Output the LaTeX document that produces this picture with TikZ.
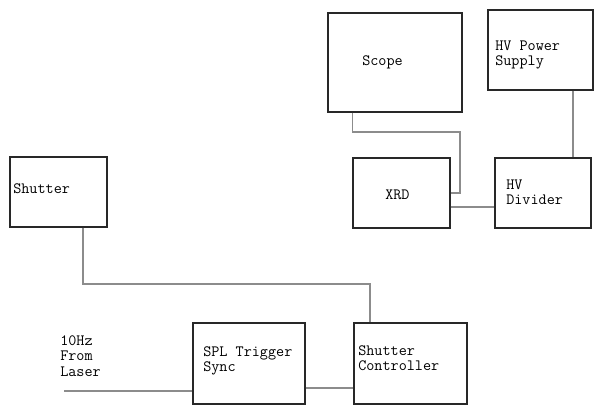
\documentclass[tikz,border=0pt]{standalone}
\usetikzlibrary{positioning}
\definecolor{wiregray}{RGB}{140,140,140}
\definecolor{boxline}{RGB}{40,40,40}

\begin{document}
\begin{tikzpicture}[
    x=0.75pt, y=-0.75pt,
    every node/.style={font=\ttfamily\fontsize{11.8}{11.6}\selectfont},
    box/.style={draw=boxline, line width=0.8pt, inner sep=0pt},
    txt/.style={anchor=west, inner sep=0pt, align=left},
    wire/.style={draw=wiregray, line width=0.8pt}
  ]
    \useasboundingbox (0,0) rectangle (594,405);

    % boxes
    \node[box, minimum width=100.5pt, minimum height=74.25pt] (scope) at (395,62.5) {};
    \node[box, minimum width=78.75pt, minimum height=60pt] (power) at (540.5,50) {};
    \node[box, minimum width=72.75pt, minimum height=52.5pt] (xrd) at (401.5,193) {};
    \node[box, minimum width=72pt, minimum height=52.5pt] (divider) at (543,193) {};
    \node[box, minimum width=72.75pt, minimum height=52.5pt] (shutter) at (58.5,192) {};
    \node[box, minimum width=84pt, minimum height=60.75pt] (spl) at (249,363.5) {};
    \node[box, minimum width=84.75pt, minimum height=60.75pt] (controller) at (410.5,363.5) {};

    % texts
    \node[txt] (scopetxt) at (362,62) {Scope};
    \node[txt] (powertxt) at (495,55) {HV Power\\Supply};
    \node[txt] (xrdtxt) at (385,195) {XRD};
    \node[txt] (dividertxt) at (506,192) {HV\\Divider};
    \node[txt] (shuttertxt) at (13,189) {Shutter};
    \node[txt] (lasertxt) at (60,356) {10Hz\\From\\Laser};
    \node[txt] (spltxt) at (203,361) {SPL Trigger\\Sync};
    \node[txt] (controllertxt) at (358,358) {Shutter\\Controller};

    % wires
    \coordinate (laser) at (64,391);
    \draw[wire] (scope.south -| xrd.west) |- (460,132) |- (xrd.east);
    \draw[wire] (xrd.east |- 0,207) -- (divider.west |- 0,207);
    \draw[wire] (power.south -| 573,0) -- (divider.north -| 573,0);
    \draw[wire] (shutter.south -| 83,0) |- (370,284) -- (controller.north -| 370,0);
    \draw[wire] (spl.east |- 0,388) -- (controller.west |- 0,388);
    \draw[wire] (laser) -- (spl.west |- laser);
  \end{tikzpicture}
\end{document}
